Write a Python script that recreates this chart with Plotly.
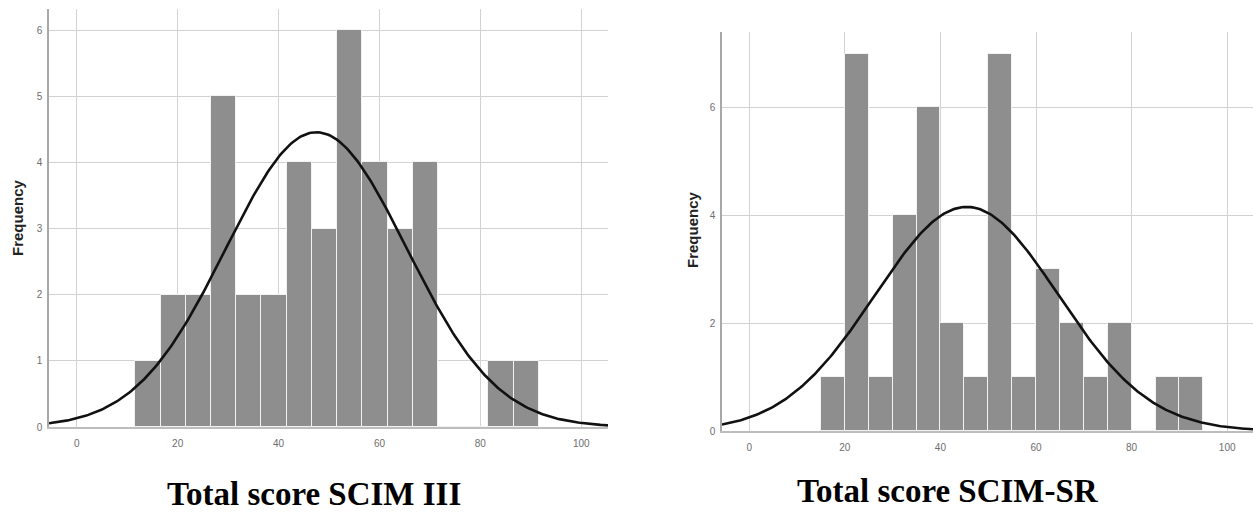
import numpy as np
import plotly.graph_objects as go

# ---- data ----
bin_width = 5
left_bin_starts = [11.6, 16.6, 21.6, 26.6, 31.6, 36.6, 41.6, 46.6, 51.6, 56.6, 61.6, 66.6, 71.6, 76.6, 81.6, 86.6]
left_counts = [1, 2, 2, 5, 2, 2, 4, 3, 6, 4, 3, 4, 0, 0, 1, 1]
left_mean, left_sd = 47.5, 17.9

right_bin_starts = [15, 20, 25, 30, 35, 40, 45, 50, 55, 60, 65, 70, 75, 80, 85, 90]
right_counts = [1, 7, 1, 4, 6, 2, 1, 7, 1, 3, 2, 1, 2, 0, 1, 1]
right_mean, right_sd = 45.5, 19.2

x_ticks = [0, 20, 40, 60, 80, 100]
left_y_ticks = [0, 1, 2, 3, 4, 5, 6]
right_y_ticks = [0, 2, 4, 6]

titles = ["Total score SCIM III", "Total score SCIM-SR"]
y_title = "Frequency"

W, H = 1253, 512


def normal_curve(mean, sd, n, xmin, xmax):
    xs = np.linspace(xmin, xmax, 300)
    ys = n * bin_width * np.exp(-0.5 * ((xs - mean) / sd) ** 2) / (sd * np.sqrt(2 * np.pi))
    return xs, ys


fig = go.Figure()

bar_style = dict(marker=dict(color="#8e8e8e", line=dict(color="#f2f2f2", width=1)), width=bin_width, showlegend=False)

L_RANGE = [-5.5, 105.3]
R_RANGE = [-5.7, 105.4]

fig.add_trace(go.Bar(x=[s + bin_width / 2 for s in left_bin_starts], y=left_counts, xaxis="x", yaxis="y", **bar_style))
xs, ys = normal_curve(left_mean, left_sd, sum(left_counts), *L_RANGE)
fig.add_trace(go.Scatter(x=xs, y=ys, mode="lines", line=dict(color="#111111", width=2.6), xaxis="x", yaxis="y", showlegend=False))

fig.add_trace(go.Bar(x=[s + bin_width / 2 for s in right_bin_starts], y=right_counts, xaxis="x2", yaxis="y2", **bar_style))
xs2, ys2 = normal_curve(right_mean, right_sd, sum(right_counts), *R_RANGE)
fig.add_trace(go.Scatter(x=xs2, y=ys2, mode="lines", line=dict(color="#111111", width=2.6), xaxis="x2", yaxis="y2", showlegend=False))

tick_font = dict(family="Liberation Sans, Arial, sans-serif", size=10, color="#6e6e6e")
grid = "#d2d2d2"

common_x = dict(tickvals=x_ticks, showgrid=True, gridcolor=grid, gridwidth=1, zeroline=False, automargin=False,
                showline=True, linecolor="#bdbdbd", linewidth=2, ticks="", tickfont=tick_font, ticklabelstandoff=6)
common_y = dict(showgrid=True, gridcolor=grid, gridwidth=1, zeroline=False, automargin=False,
                showline=True, linecolor="#a8a8a8", linewidth=1.5, ticks="", tickfont=tick_font, ticklabelstandoff=3)

fig.update_layout(
    width=W, height=H,
    margin=dict(l=0, r=0, t=0, b=0, autoexpand=False),
    paper_bgcolor="white", plot_bgcolor="white",
    bargap=0,
    xaxis=dict(domain=[49 / W, 608 / W], range=L_RANGE, anchor="y", **common_x),
    yaxis=dict(domain=[1 - 427 / H, 1 - 9 / H], range=[0, 6.32], tickvals=left_y_ticks, anchor="x", **common_y),
    xaxis2=dict(domain=[722 / W, 1.0], range=R_RANGE, anchor="y2", **common_x),
    yaxis2=dict(domain=[1 - 431 / H, 1 - 32 / H], range=[0, 7.4], tickvals=right_y_ticks, anchor="x2", **common_y),
    annotations=[
        dict(text="<b>" + y_title + "</b>", x=17 / W, y=1 - 218 / H, xref="paper", yref="paper", textangle=-90, showarrow=False,
             font=dict(family="Liberation Sans, Arial, sans-serif", size=15, color="#222222"), xanchor="center", yanchor="middle"),
        dict(text="<b>" + y_title + "</b>", x=692 / W, y=1 - 230 / H, xref="paper", yref="paper", textangle=-90, showarrow=False,
             font=dict(family="Liberation Sans, Arial, sans-serif", size=15, color="#222222"), xanchor="center", yanchor="middle"),
        dict(text="<b>" + titles[0] + "</b>", x=314 / W, y=1 - 494 / H, xref="paper", yref="paper", showarrow=False,
             font=dict(family="Liberation Serif, Times New Roman, serif", size=33, color="black"), xanchor="center", yanchor="middle"),
        dict(text="<b>" + titles[1] + "</b>", x=948 / W, y=1 - 491 / H, xref="paper", yref="paper", showarrow=False,
             font=dict(family="Liberation Serif, Times New Roman, serif", size=33, color="black"), xanchor="center", yanchor="middle"),
    ],
)

fig.write_html("out.html", config={"displayModeBar": False},
               post_script="document.body.style.margin='0';document.body.style.overflow='hidden';")
